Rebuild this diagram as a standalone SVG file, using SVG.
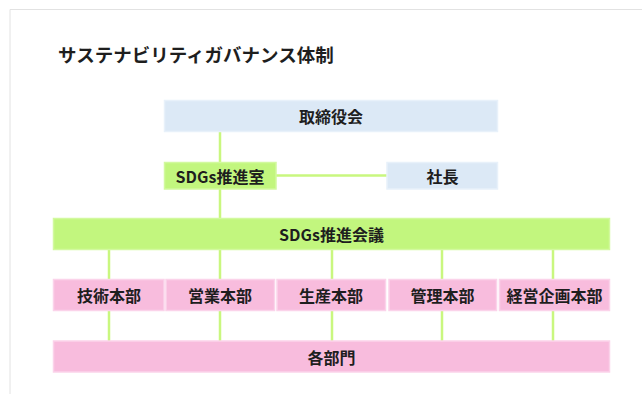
<svg xmlns="http://www.w3.org/2000/svg" width="642" height="394" viewBox="0 0 642 394">
<style>
text{font-family:"Noto Sans CJK JP","Noto Sans",sans-serif;font-weight:bold;fill:#1e1e1e;text-anchor:middle;dominant-baseline:central}
.title{font-size:18.5px;text-anchor:start}
.lbl{font-size:16px}
.blue{fill:#dce9f6;stroke:#e8f1fa;stroke-width:1.5}
.green{fill:#c2f67e;stroke:#d2f99f;stroke-width:1.5}
.pink{fill:#f8bcdd;stroke:#fbd3ea;stroke-width:1.5}
.conn line{stroke:#c9f77f;stroke-width:2.5}
</style>
<rect x="0" y="0" width="642" height="394" fill="#ffffff"/>
<path d="M10 394 V9.5 H642" fill="none" stroke="#e2e2e2" stroke-width="1"/>
<text class="title" x="58" y="54">サステナビリティガバナンス体制</text>
<g class="conn">
<line x1="220" y1="131" x2="220" y2="163"/>
<line x1="220" y1="189" x2="220" y2="219"/>
<line x1="276" y1="175.5" x2="387" y2="175.5"/>
<line x1="109" y1="250" x2="109" y2="280"/>
<line x1="220" y1="250" x2="220" y2="280"/>
<line x1="332" y1="250" x2="332" y2="280"/>
<line x1="442" y1="250" x2="442" y2="280"/>
<line x1="553" y1="250" x2="553" y2="280"/>
<line x1="109" y1="311" x2="109" y2="342"/>
<line x1="220" y1="311" x2="220" y2="342"/>
<line x1="332" y1="311" x2="332" y2="342"/>
<line x1="442" y1="311" x2="442" y2="342"/>
<line x1="553" y1="311" x2="553" y2="342"/>
</g>
<g id="board"><rect class="blue" x="164.5" y="100.5" width="333" height="31"/><text class="lbl" x="331" y="116">取締役会</text></g>
<g id="sdgs-office"><rect class="green" x="164.5" y="162.5" width="111.5" height="26.5"/><text class="lbl" x="220" y="175.5">SDGs推進室</text></g>
<g id="president"><rect class="blue" x="387" y="162.5" width="110.5" height="26.5"/><text class="lbl" x="442.5" y="175.5">社長</text></g>
<g id="sdgs-council"><rect class="green" x="53.5" y="218.5" width="556" height="31"/><text class="lbl" x="331.5" y="234">SDGs推進会議</text></g>
<g id="tech"><rect class="pink" x="53.5" y="279.5" width="110.5" height="31"/><text class="lbl" x="109" y="295">技術本部</text></g>
<g id="sales"><rect class="pink" x="166" y="279.5" width="108.5" height="31"/><text class="lbl" x="220" y="295">営業本部</text></g>
<g id="production"><rect class="pink" x="277" y="279.5" width="108.5" height="31"/><text class="lbl" x="331" y="295">生産本部</text></g>
<g id="admin"><rect class="pink" x="389" y="279.5" width="107.5" height="31"/><text class="lbl" x="442.5" y="295">管理本部</text></g>
<g id="planning"><rect class="pink" x="499.5" y="279.5" width="110" height="31"/><text class="lbl" x="554.5" y="295">経営企画本部</text></g>
<g id="departments"><rect class="pink" x="53.5" y="341" width="556" height="31"/><text class="lbl" x="331.5" y="356.5">各部門</text></g>
</svg>
